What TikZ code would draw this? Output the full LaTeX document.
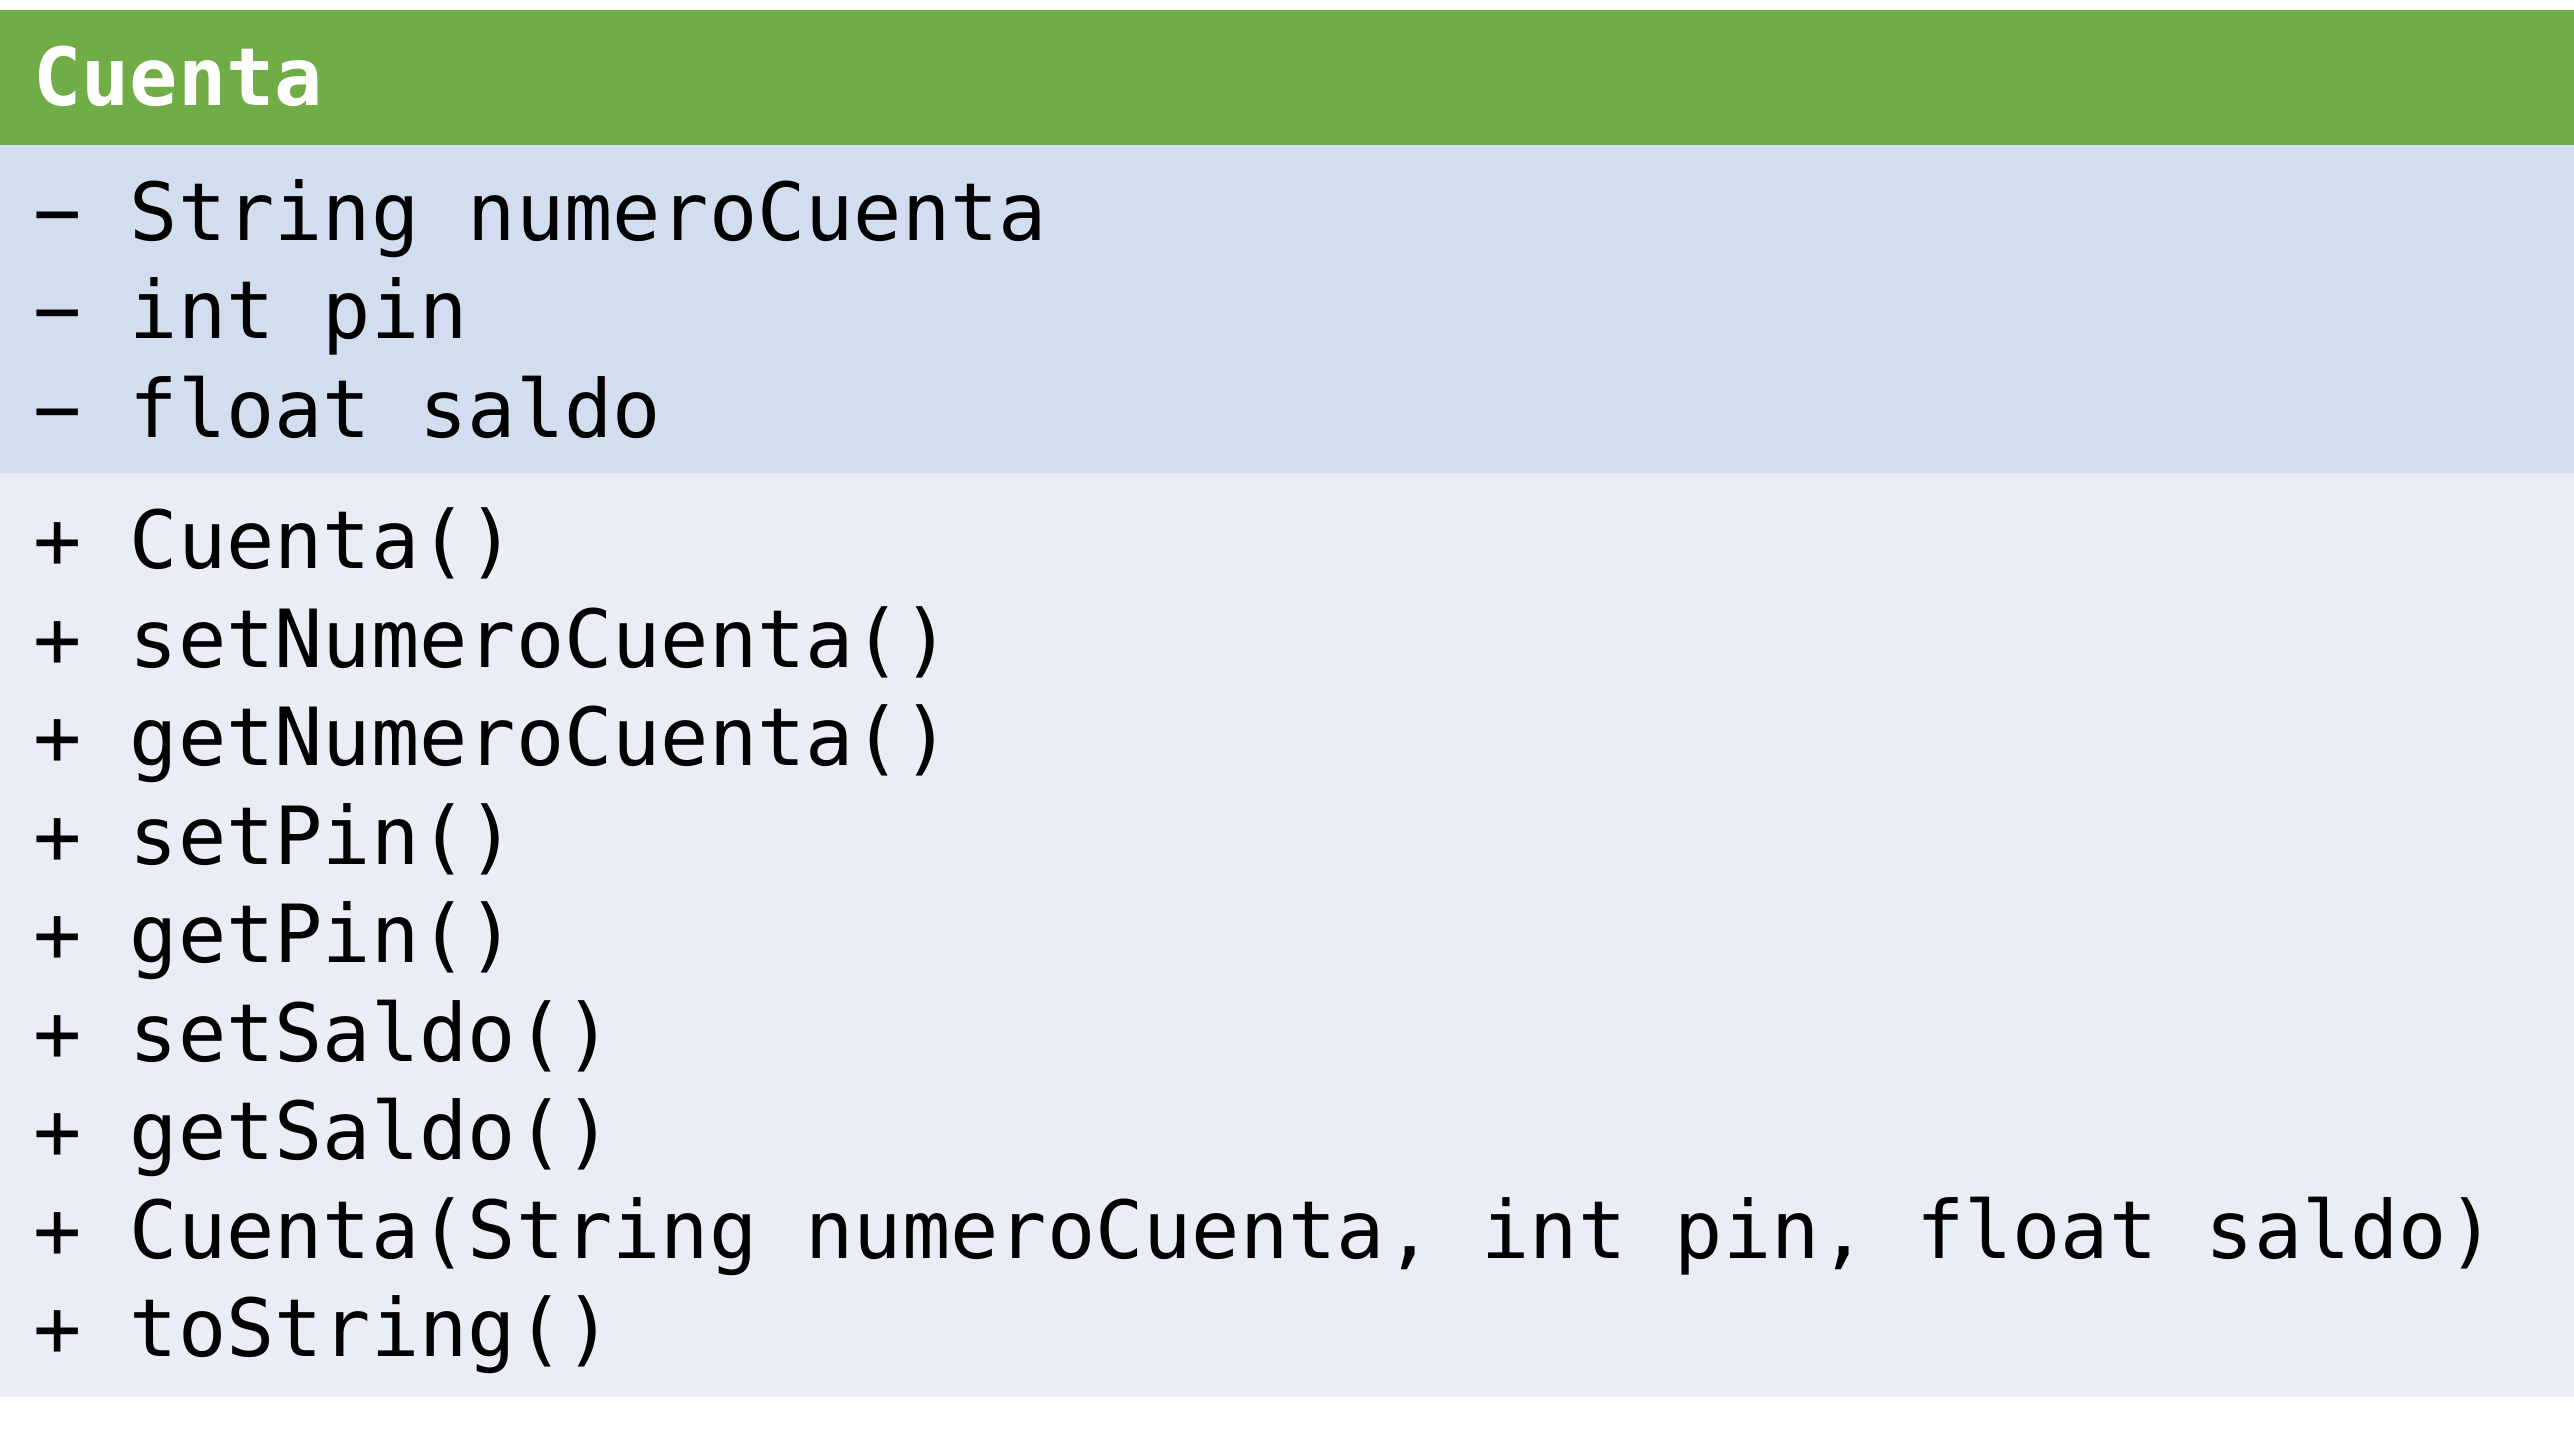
\documentclass[tikz,border=0pt]{standalone}
\usepackage{fontspec}
\setmonofont{DejaVu Sans Mono}
\definecolor{headgreen}{HTML}{70AD47}
\definecolor{attrblue}{HTML}{D2DEEF}
\definecolor{methblue}{HTML}{E9EDF6}
\begin{document}
\begin{tikzpicture}[x=1pt,y=-1pt,
  member/.style={anchor=base west, inner sep=0pt, text=black,
    font=\fontsize{80.2}{98}\selectfont\ttfamily},
  classname/.style={member, text=white,
    font=\fontsize{80.2}{98}\selectfont\ttfamily\bfseries}]
% compartments of the class box
\fill[white] (0,0) rectangle (2574,1432);
\fill[headgreen] (0,10) rectangle (2574,144.5);
\fill[attrblue] (0,144.5) rectangle (2574,473);
\fill[methblue] (0,473) rectangle (2574,1397);
% class name
\node[classname] (name) at (33,105) {Cuenta};
% attributes
\node[member] (a1) at (33,240) {− String numeroCuenta};
\node[member] (a2) at (33,338.5) {− int pin};
\node[member] (a3) at (33,437) {− float saldo};
% methods
\node[member] (m1) at (33,568.5) {+ Cuenta()};
\node[member] (m2) at (33,667) {+ setNumeroCuenta()};
\node[member] (m3) at (33,765.5) {+ getNumeroCuenta()};
\node[member] (m4) at (33,864) {+ setPin()};
\node[member] (m5) at (33,962.5) {+ getPin()};
\node[member] (m6) at (33,1061) {+ setSaldo()};
\node[member] (m7) at (33,1159.5) {+ getSaldo()};
\node[member] (m8) at (33,1258) {+ Cuenta(String numeroCuenta, int pin, float saldo)};
\node[member] (m9) at (33,1356.5) {+ toString()};
\end{tikzpicture}
\end{document}
